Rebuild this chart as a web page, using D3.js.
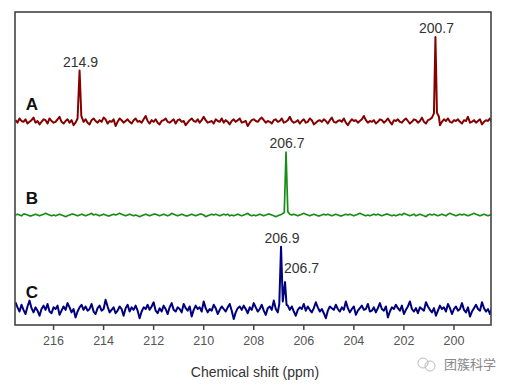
<!DOCTYPE html>
<html>
<head>
<meta charset="utf-8">
<script src="https://cdn.jsdelivr.net/npm/d3@7"></script>
<style>
  body { margin: 0; background: #fff; }
  text { font-family: "Liberation Sans", Arial, sans-serif; }
</style>
</head>
<body>
<div id="chart"></div>
<script>
// ppm grid for the sampled baseline
const ppmStart = 217.5;
const ppmStep = 0.08;

const tickValues = [216, 214, 212, 210, 208, 206, 204, 202, 200];
const traceNames = ["A", "B", "C"];
const traceColors = ["#860000", "#178c17", "#00007f"];

// baseline noise (arbitrary intensity units)
const noiseA = [
  1,-2,3,0,-1,2,-3,-1,1,4,-2,0,-4,-1,2,1,-3,3,0,-2,
  -1,2,5,-1,-3,0,2,-2,1,-5,-2,1,3,0,-1,2,-2,-4,1,3,
  0,-2,1,-1,4,2,-3,0,-1,2,-6,-1,3,1,-2,0,2,-1,-3,1,
  3,-1,0,-2,2,6,0,-3,1,-1,2,-2,-4,0,1,3,-1,-2,0,2,
  -3,1,2,-1,0,-5,-2,1,3,0,-1,2,-2,1,5,1,-2,-1,0,-3,
  2,0,-1,3,-2,1,-1,-4,0,2,-1,1,3,-2,-1,0,-6,-2,1,2,
  0,-1,2,4,1,-2,0,-1,-3,1,2,-1,0,3,-2,-1,1,5,0,-2,
  -1,1,-3,0,2,-2,-1,3,1,-4,-2,0,1,-1,2,0,-3,1,4,-1,
  -2,0,1,-1,3,-2,-5,-1,2,0,1,-2,0,2,6,1,-2,0,-1,1,
  -3,-1,2,1,-2,0,3,-1,-4,1,0,2,-1,-2,1,3,0,-3,-1,2,
  1,-2,0,4,-1,-3,1,2,0,-2,-1,1,-5,-1,2,0,3,-1,-2,1,
  0,2,-1,-3,1,0,5,-2,-1,1,-2,0,2,-4,-1,1,0,3,-2,1
];
const noiseB = [
  0,1,0,-1,1,1,0,-1,-1,0,1,0,-1,0,1,2,1,0,-1,0,
  -1,0,1,0,-1,-2,-1,0,1,1,0,-1,0,1,0,-1,0,1,2,0,
  1,0,-1,0,1,0,-1,-1,0,1,0,1,2,1,0,-1,0,1,0,-1,
  0,-1,-2,-1,0,1,0,-1,0,1,1,0,-1,0,1,0,-1,0,2,1,
  0,-1,0,1,0,-1,-1,0,1,0,-1,0,1,1,0,-2,-1,0,1,0,
  1,0,-1,0,1,0,1,-1,0,-1,0,1,0,-1,0,1,2,0,-1,0,
  -1,0,1,0,-1,0,1,1,0,-1,-2,-1,0,1,0,-1,0,1,0,1,
  0,-1,0,1,2,1,0,-1,0,1,0,-1,-1,0,1,0,1,0,-1,0,
  1,0,-1,-1,0,1,0,1,0,-1,0,1,2,1,0,-1,0,-1,0,1,
  0,1,0,-1,0,1,1,0,-1,0,-1,0,1,0,2,1,0,-1,0,1,
  -1,0,1,0,-1,-2,0,1,0,1,0,-1,0,1,0,-1,1,2,1,0,
  -1,0,1,0,1,0,-1,0,1,2,1,0,-1,0,1,0,-1,0,1,2
];
const noiseC = [
  8,2,-3,5,-1,-6,3,10,1,-4,2,-2,-8,0,4,-1,6,-3,-5,2,
  0,4,-7,-2,3,-1,7,2,-4,0,-10,-3,2,5,-1,3,-2,0,6,-3,
  -6,1,4,-2,0,11,3,-4,-1,2,-5,-2,3,0,-8,1,5,-3,2,-1,
  4,-2,-11,-3,2,0,5,-1,3,8,-2,-5,1,-3,4,0,-6,2,7,-1,
  -3,2,0,-4,6,1,-2,3,-9,-1,4,0,2,-3,9,1,-4,0,-2,5,
  1,-6,-1,3,0,-3,2,6,-2,-12,-4,1,3,-1,4,0,-5,2,-1,7,
  2,-3,0,5,-2,-7,1,3,-1,10,0,-4,2,-2,-6,1,4,-1,3,-3,
  -8,-1,2,0,6,-2,3,-1,-4,1,8,2,-3,0,-5,-11,-2,3,1,-1,
  5,0,-3,2,-1,9,1,-4,0,3,-7,-2,1,4,-1,0,6,-3,-2,2,
  -4,1,7,0,-2,3,-10,-3,2,0,5,1,-2,4,-6,-1,3,9,0,-3,
  1,-5,2,0,-2,8,3,-1,-4,1,-8,-2,4,0,2,-3,6,1,-6,0,
  3,-2,0,7,-1,-4,2,-9,-3,1,5,0,-2,8,1,-3,0,-6,2,4
];

// peak points [ppm, intensity]
const peaksA = [[215.02, 3], [214.94, 60], [214.87, 6], [200.86, 4], [200.78, 9], [200.72, 100], [200.66, 10], [200.58, 5]];
const peaksB = [[206.76, 3], [206.69, 75], [206.62, 4]];
const peaksC = [[206.96, 6], [206.89, 74], [206.82, 9], [206.73, 32], [206.67, 5]];

// peak labels [trace, ppm, text]
const peakLabels = [
  ["A", 214.94, "214.9"], ["A", 200.72, "200.7"],
  ["B", 206.69, "206.7"],
  ["C", 206.89, "206.9"], ["C", 206.73, "206.7"]
];

const W = 507, H = 386;
const margin = { top: 12, right: 16, bottom: 61, left: 15 };
const iw = W - margin.left - margin.right;
const ih = H - margin.top - margin.bottom;

const svg = d3.select("#chart").append("svg")
  .attr("width", W).attr("height", H);

const g = svg.append("g").attr("transform", `translate(${margin.left},${margin.top})`);

const x = d3.scaleLinear().domain([217.52, 198.5]).range([0, iw]);
const base = d3.scalePoint().domain(traceNames).range([109, 297]);
const y = d3.scaleLinear().domain([0, 100]).range([0, -84]);

function splitPeaks(peaks) {
  // group peaks that are close together
  const groups = [];
  peaks.slice().sort((a, b) => b[0] - a[0]).forEach(p => {
    const last = groups[groups.length - 1];
    if (last && last[last.length - 1][0] - p[0] < 0.3) last.push(p);
    else groups.push([p]);
  });
  return groups;
}

function mergeTrace(noise, peaks) {
  let pts = noise.map((v, i) => [ppmStart - i * ppmStep, v]);
  splitPeaks(peaks).forEach(grp => {
    const hi = grp[0][0], lo = grp[grp.length - 1][0];
    pts = pts.filter(p => p[0] > hi + 0.03 || p[0] < lo - 0.03);
  });
  return pts.concat(peaks).sort((a, b) => b[0] - a[0]);
}

const traces = {
  A: mergeTrace(noiseA, peaksA),
  B: mergeTrace(noiseB, peaksB),
  C: mergeTrace(noiseC, peaksC)
};
const peaksOf = { A: peaksA, B: peaksB, C: peaksC };

g.append("clipPath").attr("id", "clip")
  .append("rect").attr("width", iw).attr("height", ih);

traceNames.forEach((name, i) => {
  const line = d3.line()
    .x(d => x(d[0]))
    .y(d => base(name) + y(d[1]));
  g.append("path")
    .datum(traces[name])
    .attr("clip-path", "url(#clip)")
    .attr("fill", "none")
    .attr("stroke", traceColors[i])
    .attr("stroke-width", name === "B" ? 1.7 : 2)
    .attr("stroke-linejoin", "round")
    .attr("d", line);

  g.append("text")
    .attr("x", 17).attr("y", base(name) - 11)
    .attr("text-anchor", "middle")
    .attr("font-size", 17).attr("font-weight", "bold")
    .attr("fill", "#111")
    .text(name);
});

// peak labels
peakLabels.forEach(([name, ppm, label]) => {
  const pk = peaksOf[name].find(p => p[0] === ppm);
  const top = base(name) + y(pk[1]);
  const second = name === "C" && label === "206.7";
  g.append("text")
    .attr("x", second ? x(ppm) - 1 : x(ppm) + 1)
    .attr("y", second ? top - 9 : top - 4)
    .attr("text-anchor", second ? "start" : "middle")
    .attr("font-size", 14)
    .attr("fill", "#333")
    .text(label);
});

// frame
g.append("rect")
  .attr("width", iw).attr("height", ih)
  .attr("fill", "none")
  .attr("stroke", "#444")
  .attr("stroke-width", 1.6);

// x axis
const xAxis = g.append("g")
  .attr("transform", `translate(0,${ih})`)
  .call(d3.axisBottom(x).tickValues(tickValues).tickSize(5).tickPadding(6).tickFormat(d3.format("d")));
xAxis.select(".domain").remove();
xAxis.selectAll(".tick line").attr("stroke", "#444").attr("stroke-width", 1.5);
xAxis.selectAll(".tick text").attr("font-size", 12.5).attr("fill", "#555")
  .style("font-family", "'Liberation Sans', Arial, sans-serif");

g.append("text")
  .attr("x", iw / 2 + 2).attr("y", ih + 52)
  .attr("text-anchor", "middle")
  .attr("font-size", 14)
  .attr("fill", "#333")
  .text("Chemical shift (ppm)");

// watermark
const wm = svg.append("g").attr("transform", "translate(426,364)");
wm.append("circle").attr("cx", -3).attr("cy", -1).attr("r", 5).attr("fill", "none").attr("stroke", "#bbb").attr("stroke-width", 1);
wm.append("circle").attr("cx", 4).attr("cy", 2).attr("r", 5).attr("fill", "none").attr("stroke", "#bbb").attr("stroke-width", 1);
svg.append("text")
  .attr("x", 444).attr("y", 369)
  .attr("font-size", 13)
  .attr("fill", "#888")
  .style("font-family", "'Noto Sans CJK SC', sans-serif")
  .text("团簇科学");
</script>
</body>
</html>
